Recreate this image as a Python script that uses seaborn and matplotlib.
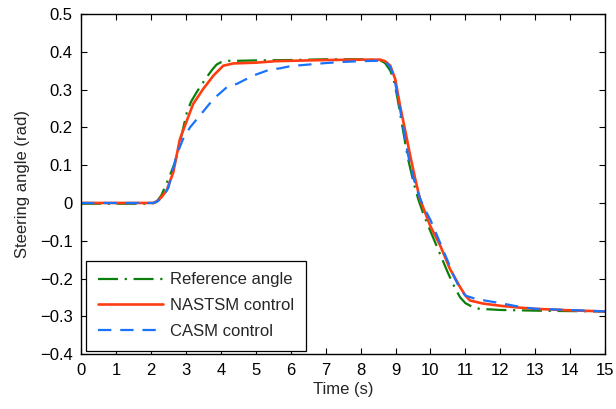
import matplotlib
matplotlib.use("Agg")
import matplotlib.pyplot as plt
import seaborn as sns
import pandas as pd

# ---- data ----
t_ref = [0, 2.0, 2.15, 2.3, 2.54, 2.7, 2.83, 3.03, 3.15, 3.31, 3.45, 3.6, 3.75, 3.88, 4.0, 4.17, 4.5, 5, 6, 7, 8, 8.55,
         8.7, 8.85, 8.95, 9.05, 9.2, 9.35, 9.5, 9.65, 9.8, 10.0, 10.25, 10.5, 10.7, 10.85, 11.0, 11.2, 11.4, 12.0, 13.1, 14, 15]
y_ref = [-0.002, -0.002, 0.002, 0.02, 0.072, 0.11, 0.16, 0.24, 0.268, 0.293, 0.313, 0.333, 0.352, 0.366, 0.372, 0.376, 0.376, 0.377, 0.378, 0.38, 0.38, 0.378,
         0.37, 0.35, 0.325, 0.28, 0.2, 0.12, 0.06, 0.01, -0.03, -0.075, -0.13, -0.185, -0.225, -0.25, -0.265, -0.275, -0.28, -0.283, -0.285, -0.286, -0.287]

t_nas = [0, 2.07, 2.2, 2.3, 2.45, 2.64, 2.83, 3.03, 3.21, 3.5, 3.79, 4.07, 4.36, 5.0, 5.56, 6, 7, 8, 8.56, 8.7,
         8.85, 8.99, 9.13, 9.28, 9.42, 9.56, 9.7, 9.99, 10.28, 10.56, 10.85, 11.0, 11.13, 11.5, 12.0, 12.57, 13, 14, 15]
y_nas = [0, 0, 0.006, 0.015, 0.033, 0.081, 0.169, 0.218, 0.262, 0.302, 0.337, 0.363, 0.369, 0.371, 0.375, 0.376, 0.378, 0.379, 0.379, 0.375,
         0.363, 0.328, 0.257, 0.19, 0.125, 0.065, 0.01, -0.06, -0.113, -0.175, -0.223, -0.245, -0.258, -0.266, -0.272, -0.277, -0.28, -0.284, -0.287]

t_casm = [0, 2.07, 2.2, 2.35, 2.5, 2.73, 2.92, 3.12, 3.4, 3.79, 4.17, 4.46, 4.93, 5.41, 5.69, 6, 6.5, 7, 7.5, 8, 8.5, 8.7,
          8.85, 8.95, 9.05, 9.2, 9.35, 9.5, 9.65, 9.8, 10.0, 10.25, 10.5, 10.7, 10.85, 11.0, 11.3, 12.0, 12.57, 13, 14, 15]
y_casm = [0, 0, 0.005, 0.018, 0.04, 0.125, 0.169, 0.2, 0.231, 0.275, 0.306, 0.315, 0.337, 0.353, 0.356, 0.362, 0.366, 0.37, 0.373, 0.375, 0.376, 0.374,
          0.36, 0.335, 0.29, 0.21, 0.13, 0.07, 0.025, -0.01, -0.045, -0.1, -0.155, -0.2, -0.228, -0.245, -0.254, -0.265, -0.275, -0.28, -0.283, -0.287]

labels = ["Reference angle", "NASTSM control", "CASM control"]
x_ticks = list(range(0, 16))
y_ticks = [-0.4, -0.3, -0.2, -0.1, 0, 0.1, 0.2, 0.3, 0.4, 0.5]
y_tick_labels = ["\u22120.4", "\u22120.3", "\u22120.2", "\u22120.1", "0", "0.1", "0.2", "0.3", "0.4", "0.5"]

# ---- plot ----
sns.set_theme(style="ticks")
plt.rcParams["font.family"] = ["Liberation Sans", "DejaVu Sans"]

fig = plt.figure(figsize=(6.16, 4.09), dpi=100)
ax = fig.add_axes([0.1315, 0.134, 0.851, 0.832])

df_ref = pd.DataFrame({"t": t_ref, "y": y_ref})
df_nas = pd.DataFrame({"t": t_nas, "y": y_nas})
df_casm = pd.DataFrame({"t": t_casm, "y": y_casm})

sns.lineplot(data=df_ref, x="t", y="y", ax=ax, color="#0a7f0a", lw=1.6,
             label=labels[0], estimator=None)
sns.lineplot(data=df_nas, x="t", y="y", ax=ax, color="#ff3d12", lw=1.9,
             label=labels[1], estimator=None)
sns.lineplot(data=df_casm, x="t", y="y", ax=ax, color="#1a73ff", lw=1.6,
             label=labels[2], estimator=None)
lines = ax.get_lines()
lines[0].set_dashes([9, 3, 1, 3])
lines[2].set_dashes([6, 4])

ax.set_xlim(0, 15)
ax.set_ylim(-0.4, 0.5)
ax.set_xticks(x_ticks)
ax.set_yticks(y_ticks)
ax.set_yticklabels(y_tick_labels)
ax.tick_params(direction="in", length=4, width=0.8, top=True, right=True,
               labelsize=12, colors="black")
ax.tick_params(axis="x", pad=6)
ax.tick_params(axis="y", pad=6)
for s in ax.spines.values():
    s.set_visible(True)
    s.set_color("black")
    s.set_linewidth(1.0)
ax.set_xlabel("Time (s)", fontsize=12, labelpad=3)
ax.set_ylabel("Steering angle (rad)", fontsize=12, labelpad=7)

leg = ax.legend(loc="lower left", bbox_to_anchor=(0.01, 0.01), fontsize=12,
                frameon=True, fancybox=False, edgecolor="black", framealpha=1,
                handlelength=3.9, borderpad=0.7, labelspacing=0.65, handletextpad=0.45,
                borderaxespad=0)
leg.get_frame().set_linewidth(0.9)

fig.savefig("out.png", dpi=100)
